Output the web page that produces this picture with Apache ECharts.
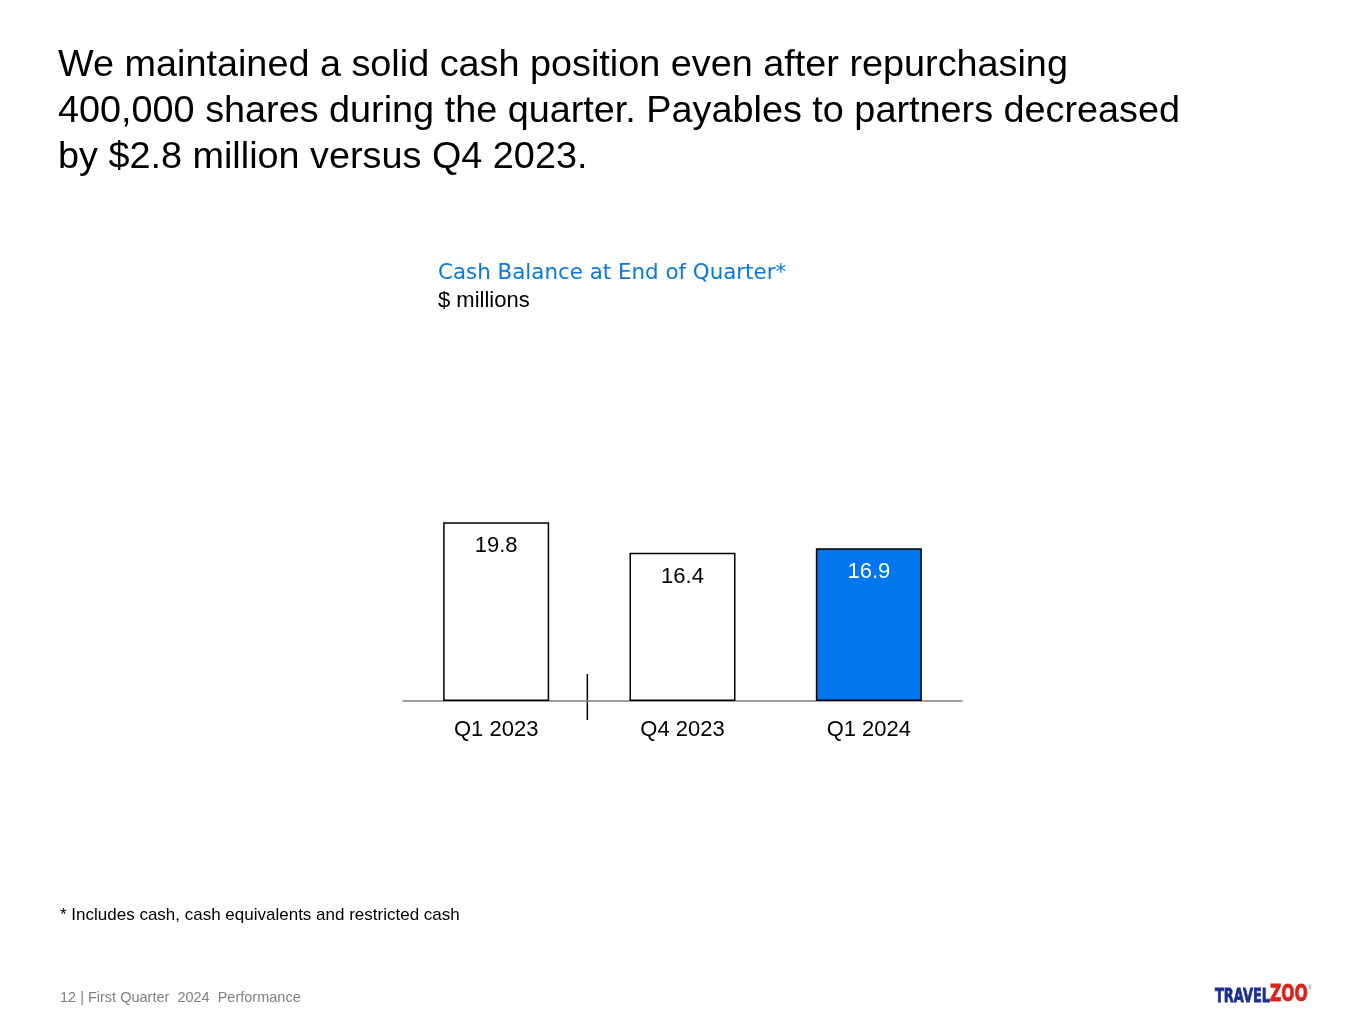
<!DOCTYPE html>
<html>
<head>
<meta charset="utf-8">
<script src="https://cdn.jsdelivr.net/npm/echarts@6/dist/echarts.min.js"></script>
<style>
  html, body { margin: 0; padding: 0; background: #fff; }
  #chart { width: 1365px; height: 1024px; }
</style>
</head>
<body>
<div id="chart"></div>
<script>
// Datos del gráfico
var categories = ['Q1 2023', 'Q4 2023', 'Q1 2024'];
var cashValues = [19.8, 16.4, 16.9];
var barColors = ['#ffffff', '#ffffff', '#0077ee'];
var labelColors = ['#000000', '#000000', '#ffffff'];

var headline = 'We maintained a solid cash position even after repurchasing\n' +
  '400,000 shares during the quarter. Payables to partners decreased\n' +
  'by $2.8 million versus Q4 2023.';

var chart = echarts.init(document.getElementById('chart'));

var option = {
  backgroundColor: '#ffffff',
  animation: false,
  textStyle: { fontFamily: 'Liberation Sans, Arial, sans-serif' },
  title: [
    {
      text: headline,
      left: 53,
      top: 38,
      textStyle: { fontSize: 37.8, fontWeight: 'normal', color: '#000', lineHeight: 46 }
    },
    {
      text: 'Cash Balance at End of Quarter*',
      left: 433,
      top: 258,
      textStyle: { fontSize: 21.4, fontWeight: 'normal', color: '#0a78dc', fontFamily: 'DejaVu Sans' }
    },
    {
      text: '$ millions',
      left: 433,
      top: 285,
      textStyle: { fontSize: 22, fontWeight: 'normal', color: '#000' }
    },
    {
      text: '* Includes cash, cash equivalents and restricted cash',
      left: 55,
      top: 902,
      textStyle: { fontSize: 17, fontWeight: 'normal', color: '#000' }
    },
    {
      text: '12 | First Quarter  2024  Performance',
      left: 55,
      top: 985,
      textStyle: { fontSize: 14.5, fontWeight: 'normal', color: '#808080' }
    }
  ],
  grid: { left: 403, right: 403, top: 430, bottom: 323 },
  xAxis: {
    type: 'category',
    data: categories,
    axisLine: { lineStyle: { color: '#808080', width: 1.5 } },
    axisTick: { show: false },
    axisLabel: { fontSize: 22, color: '#000', margin: 18 }
  },
  yAxis: {
    type: 'value',
    min: 0,
    max: 30,
    show: false,
    splitLine: { show: false }
  },
  series: [
    {
      type: 'bar',
      barWidth: 106,
      data: cashValues.map(function (v, i) {
        return {
          value: v,
          itemStyle: { color: barColors[i], borderColor: '#000', borderWidth: 1.5 },
          label: { color: labelColors[i] }
        };
      }),
      label: {
        show: true,
        position: 'insideTop',
        distance: 13,
        fontSize: 22
      }
    }
  ]
};

chart.setOption(option);

// Línea separadora entre Q1 2023 y Q4 2023, y logo de la marca
var p0 = chart.convertToPixel({ xAxisIndex: 0 }, categories[0]);
var p1 = chart.convertToPixel({ xAxisIndex: 0 }, categories[1]);
var base = chart.convertToPixel({ yAxisIndex: 0 }, 0);
var sepX = (p0 + p1) / 2 - 2;
chart.setOption({
  graphic: [
    {
      id: 'separator',
      type: 'line',
      shape: { x1: sepX, y1: base - 27, x2: sepX, y2: base + 19 },
      style: { stroke: '#000', lineWidth: 1.5 }
    },
    {
      id: 'logo',
      type: 'text',
      x: 1215,
      y: 984,
      scaleX: 0.68,
      style: {
        text: '{a|TRAVEL}{b|ZOO}{c|®}',
        rich: {
          a: { fontSize: 19, fontWeight: 'bold', fill: '#1a2f8f', stroke: '#1a2f8f', lineWidth: 0.8, fontFamily: 'DejaVu Sans', verticalAlign: 'bottom' },
          b: { fontSize: 23, fontWeight: 'bold', fill: '#e0201b', stroke: '#e0201b', lineWidth: 0.8, fontFamily: 'DejaVu Sans', verticalAlign: 'bottom' },
          c: { fontSize: 8, fill: '#888', verticalAlign: 'top' }
        }
      }
    }
  ]
});
</script>
</body>
</html>
